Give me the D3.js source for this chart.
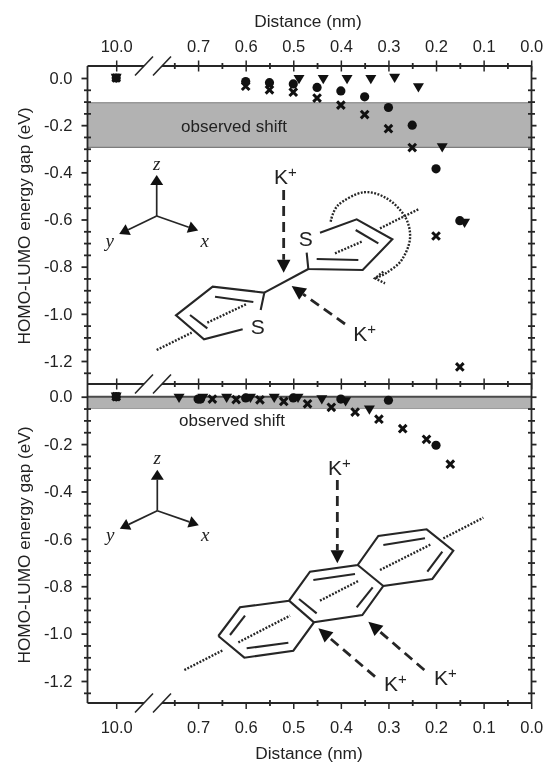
<!DOCTYPE html>
<html>
<head>
<meta charset="utf-8">
<script src="https://cdnjs.cloudflare.com/ajax/libs/d3/7.8.5/d3.min.js"></script>
<style>
  html, body { margin: 0; padding: 0; background: #fff; }
  svg { display: block; filter: blur(0.35px); }
  text { font-family: "Liberation Sans", Arial, sans-serif; fill: #222; }
</style>
</head>
<body>
<div id="chart"></div>
<script>
// Values (distance in nm, gap shift in eV)
const topCircleX = [10, 0.6, 0.55, 0.5, 0.45, 0.4, 0.35, 0.3, 0.25, 0.2, 0.15];
const topCircleY = [0, -0.015, -0.02, -0.025, -0.04, -0.055, -0.08, -0.125, -0.2, -0.385, -0.605];
const topCrossX = [10, 0.6, 0.55, 0.5, 0.45, 0.4, 0.35, 0.3, 0.25, 0.2, 0.15];
const topCrossY = [0, -0.035, -0.05, -0.06, -0.085, -0.115, -0.155, -0.215, -0.295, -0.67, -1.225];
const topTriX = [10, 0.488, 0.437, 0.387, 0.337, 0.287, 0.237, 0.187, 0.14];
const topTriY = [0, -0.005, -0.005, -0.005, -0.005, 0, -0.04, -0.295, -0.615];

const botCircleX = [10, 0.7, 0.695, 0.6, 0.5, 0.4, 0.3, 0.2];
const botCircleY = [0, -0.01, -0.01, -0.005, -0.005, -0.01, -0.015, -0.205];
const botCrossX = [10, 0.67, 0.62, 0.57, 0.52, 0.47, 0.42, 0.37, 0.32, 0.27, 0.22, 0.17];
const botCrossY = [0, -0.01, -0.012, -0.013, -0.02, -0.03, -0.045, -0.065, -0.095, -0.135, -0.18, -0.285];
const botTriX = [10, 0.74, 0.69, 0.64, 0.59, 0.54, 0.49, 0.44, 0.39, 0.34];
const botTriY = [0, -0.005, -0.005, -0.005, -0.005, -0.005, -0.005, -0.012, -0.02, -0.055];

const topBand = [-0.105, -0.294];
const botBand = [0, -0.05];

const xTicks = [10, 0.75, 0.7, 0.65, 0.6, 0.55, 0.5, 0.45, 0.4, 0.35, 0.3, 0.25, 0.2, 0.15, 0.1, 0.05, 0];
const xLabelled = [10, 0.7, 0.6, 0.5, 0.4, 0.3, 0.2, 0.1, 0];
const yTicks = d3.range(0, 27).map(i => -i * 0.05);
const yLabelled = [0, -0.2, -0.4, -0.6, -0.8, -1, -1.2];

const width = 544, height = 762;
const left = 87.5, right = 531.5;
const breakL = 144, breakR = 162;
const ink = "#262626";

const svg = d3.select("#chart").append("svg")
    .attr("width", width).attr("height", height)
    .attr("viewBox", `0 0 ${width} ${height}`);

// broken x scale: 10.0 sits left of the break
const x = d3.scaleLinear()
    .domain([10.61, 10, 0.75, 0])
    .range([left, 116.2, 174.3, 531.2]);

const yTop = d3.scaleLinear().domain([0, -1.2]).range([78, 361]);
const yBot = d3.scaleLinear().domain([0, -1.2]).range([396.7, 681]);

const isIn = (list, v) => list.some(t => Math.abs(t - v) < 1e-6);

// --- Bands ---
function drawBand(y, band, x0, x1) {
    svg.append("rect")
        .attr("x", x0).attr("width", x1 - x0)
        .attr("y", y(band[0])).attr("height", y(band[1]) - y(band[0]))
        .attr("fill", "#b2b2b2");
}
drawBand(yTop, topBand, left, right);
drawBand(yBot, botBand, left, right);
[[yTop, topBand[0], "#7d7d7d", 1.2], [yTop, topBand[1], "#7d7d7d", 1.2],
 [yBot, botBand[0], "#4a4a4a", 2], [yBot, botBand[1], "#9a9a9a", 1]].forEach(b => {
    svg.append("line")
        .attr("x1", left).attr("x2", right)
        .attr("y1", b[0](b[1])).attr("y2", b[0](b[1]))
        .attr("stroke", b[2]).attr("stroke-width", b[3]);
});

// --- Axes ---
function horizontalAxis(yPos, showLabels, downOnly) {
    const g = svg.append("g").attr("transform", `translate(0,${yPos})`);
    const axis = (downOnly ? d3.axisBottom(x) : d3.axisTop(x))
        .tickValues(xTicks)
        .tickFormat(d => (showLabels && isIn(xLabelled, d)) ? d.toFixed(1) : "")
        .tickPadding(downOnly ? 12 : 8);
    g.call(axis);
    g.select(".domain").remove();
    g.selectAll(".tick line").each(function(d) {
        const major = isIn(xLabelled, d);
        const a = major ? (downOnly ? 0 : -5.5) : -3;
        const b = major ? (downOnly ? 6 : 5.5) : 3;
        d3.select(this).attr("y1", a).attr("y2", b)
            .attr("stroke", ink).attr("stroke-width", major ? 1.5 : 1.8);
    });
    g.selectAll("text").attr("font-size", 16.5).style("font-family", null);
    [[left, breakL], [breakR, right]].forEach(s => {
        g.append("line").attr("x1", s[0]).attr("x2", s[1])
            .attr("stroke", ink).attr("stroke-width", 1.8);
    });
    [-9, 9].forEach(dx => {
        g.append("line")
            .attr("x1", (breakL + breakR) / 2 + dx - 9).attr("y1", 9.5)
            .attr("x2", (breakL + breakR) / 2 + dx + 9).attr("y2", -9.5)
            .attr("stroke", ink).attr("stroke-width", 1.6);
    });
}

function verticalAxis(y, y0, y1) {
    const scale = y.copy();
    const vals = yTicks.filter(v => y(v) > y0 && y(v) < y1);
    const lg = svg.append("g").attr("transform", `translate(${left},0)`);
    lg.call(d3.axisLeft(scale).tickValues(vals)
        .tickFormat(d => isIn(yLabelled, d) ? d3.format(".1f")(d).replace("\u2212", "-") : "")
        .tickPadding(9));
    const rg = svg.append("g").attr("transform", `translate(${right},0)`);
    rg.call(d3.axisRight(scale).tickValues(vals).tickFormat(""));
    [lg, rg].forEach((g, side) => {
        g.select(".domain").remove();
        g.selectAll(".tick line").each(function(d) {
            const major = isIn(yLabelled, d);
            const a = major ? (side ? 0 : -6) : -3.5;
            const b = major ? (side ? 5 : 0) : 3.5;
            d3.select(this).attr("x1", a).attr("x2", b)
                .attr("stroke", ink).attr("stroke-width", 1.8);
        });
        g.append("line").attr("y1", y0).attr("y2", y1)
            .attr("stroke", ink).attr("stroke-width", 1.8);
    });
    lg.selectAll("text").attr("font-size", 16.5).style("font-family", null);
}

verticalAxis(yTop, 66, 384);
verticalAxis(yBot, 384, 703);
horizontalAxis(66, true, false);
horizontalAxis(384, false, false);
horizontalAxis(703, true, true);

// --- Points ---
function drawPoints(xs, ys, y, kind) {
    const g = svg.append("g");
    xs.forEach((d, i) => {
        const px = x(d), py = y(ys[i]);
        if (kind === "circle") {
            g.append("circle").attr("cx", px).attr("cy", py).attr("r", 4.6).attr("fill", "#111");
        } else if (kind === "tri") {
            g.append("path").attr("transform", `translate(${px},${py})`)
                .attr("d", "M-5.5,-4.2L5.5,-4.2L0,5Z").attr("fill", "#111");
        } else {
            g.append("path").attr("transform", `translate(${px},${py})`)
                .attr("d", "M-3.8,-3.8L3.8,3.8M-3.8,3.8L3.8,-3.8")
                .attr("stroke", "#111").attr("stroke-width", 3).attr("fill", "none");
        }
    });
}
drawPoints(topTriX, topTriY, yTop, "tri");
drawPoints(topCrossX, topCrossY, yTop, "cross");
drawPoints(topCircleX, topCircleY, yTop, "circle");
drawPoints(botTriX, botTriY, yBot, "tri");
drawPoints(botCrossX, botCrossY, yBot, "cross");
drawPoints(botCircleX, botCircleY, yBot, "circle");

// --- Titles ---
function label(txt, px, py, size, rotate) {
    const t = svg.append("text")
        .attr("text-anchor", "middle").attr("dominant-baseline", "central")
        .attr("font-size", size)
        .attr("transform", `translate(${px},${py})` + (rotate ? ` rotate(${rotate})` : ""))
        .text(txt);
    return t;
}
label("Distance (nm)", 308, 21, 17.3);
label("Distance (nm)", 309, 753, 17.3);
label("HOMO-LUMO energy gap (eV)", 24, 226, 17.2, -90);
label("HOMO-LUMO energy gap (eV)", 24, 545, 17.2, -90);
label("observed shift", 234, 126, 17);
label("observed shift", 232, 420, 17);

// --- Illustrations (drawn on top of the plot, in picture pixels) ---
const linePath = d3.line();
// traced at 3x from the picture, so convert back to pixels
const px3 = p => [90 + p[0] / 3, 150 + p[1] / 3];
const px4 = p => [90 + p[0] / 3, 470 + p[1] / 3];

function stroke(points, w, dash) {
    const p = svg.append("path").attr("d", linePath(points))
        .attr("fill", "none").attr("stroke", ink).attr("stroke-width", w)
        .attr("stroke-linejoin", "miter");
    if (dash) p.attr("stroke-dasharray", dash);
    return p;
}

function arrow(from, tip, headLen, headHalf, w, dash) {
    const ang = Math.atan2(tip[1] - from[1], tip[0] - from[0]);
    const bx = tip[0] - headLen * Math.cos(ang), by = tip[1] - headLen * Math.sin(ang);
    stroke([from, [bx, by]], w, dash);
    const nx = -Math.sin(ang) * headHalf, ny = Math.cos(ang) * headHalf;
    svg.append("path")
        .attr("d", linePath([tip, [bx + nx, by + ny], [bx - nx, by - ny]]) + "Z")
        .attr("fill", "#111");
}

function ionLabel(px, py) {
    const t = svg.append("text").attr("x", px).attr("y", py).attr("font-size", 21);
    t.append("tspan").text("K");
    t.append("tspan").attr("font-size", 15).attr("dy", -7).text("+");
}

function axesIcon(ox, oy) {
    const o = [ox, oy];
    arrow(o, [ox, oy - 41], 10, 6.5, 1.7);
    arrow(o, [ox + 41.5, oy + 14.5], 10, 6, 1.7);
    arrow(o, [ox - 37.5, oy + 18], 10, 6, 1.7);
    [["z", 0, -53], ["y", -47, 24], ["x", 48, 24]].forEach(a => {
        svg.append("text").attr("x", ox + a[1]).attr("y", oy + a[2])
            .attr("text-anchor", "middle").attr("dominant-baseline", "central")
            .attr("font-size", 19).attr("font-style", "italic")
            .style("font-family", '"Liberation Serif", serif').text(a[0]);
    });
}
axesIcon(156.7, 216);
axesIcon(157.3, 510.7);

// bithiophene
[
    [[690, 248], [800, 208], [907, 268], [818, 360], [655, 357], [650, 308]],
    [[797, 240], [865, 280]], [[680, 327], [805, 330]],
    [[655, 357], [523, 428]],
    [[458, 538], [342, 568], [258, 496], [368, 410], [523, 428], [512, 480]],
    [[375, 440], [490, 456]], [[300, 495], [352, 535]]
].forEach(s => stroke(s.map(px3), 2.1));
[
    [[200, 600], [305, 548]], [[352, 518], [470, 462]],
    [[735, 310], [815, 275]], [[870, 235], [985, 178]]
].forEach(s => stroke(s.map(px3), 2.4, "1.9,1.5"));
const turnArc = [[722, 215], [745, 165], [820, 127], [890, 145], [945, 200], [960, 265], [935, 330], [890, 368], [855, 385]];
svg.append("path").attr("d", d3.line().curve(d3.curveCardinal)(turnArc.map(px3)))
    .attr("fill", "none").attr("stroke", ink).attr("stroke-width", 2.4).attr("stroke-dasharray", "1.9,1.5");
stroke([[880, 365], [855, 385], [885, 400]].map(px3), 2.4, "1.9,1.5");
[["S", 647, 266], ["S", 503, 528]].forEach(a => {
    const p = px3([a[1], a[2]]);
    label(a[0], p[0], p[1], 21);
});
arrow(px3([581, 120]), px3([581, 368]), 13, 6.8, 2.8, "10,6");
arrow(px3([765, 522]), px3([605, 408]), 14, 6.8, 2.8, "10,6");
ionLabel(...px3([552, 103]));
ionLabel(...px3([790, 572]));

// anthracene
[
    [[385, 498], [450, 412], [597, 392], [660, 305], [803, 285], [865, 198], [1010, 178], [1090, 242],
     [1027, 327], [880, 348], [817, 435], [672, 457], [610, 542], [463, 563], [385, 498]],
    [[597, 392], [672, 457]], [[803, 285], [880, 348]],
    [[420, 495], [465, 437]], [[470, 535], [595, 518]], [[627, 387], [680, 430]],
    [[670, 330], [795, 312]], [[800, 412], [848, 352]], [[880, 225], [1005, 205]], [[1012, 305], [1057, 245]]
].forEach(s => stroke(s.map(px4), 2.1));
[
    [[283, 600], [400, 540]], [[445, 517], [600, 437]], [[690, 392], [805, 333]],
    [[870, 300], [1025, 222]], [[1060, 205], [1180, 143]]
].forEach(s => stroke(s.map(px4), 2.4, "1.9,1.5"));
arrow(px4([742, 30]), px4([742, 280]), 13, 6.8, 2.8, "10,6");
arrow(px4([1003, 600]), px4([835, 455]), 14, 6.8, 2.8, "10,6");
arrow(px4([855, 620]), px4([685, 475]), 14, 6.8, 2.8, "10,6");
ionLabel(328, 475);
ionLabel(...px4([1032, 645]));
ionLabel(...px4([882, 664]));
</script>
</body>
</html>
